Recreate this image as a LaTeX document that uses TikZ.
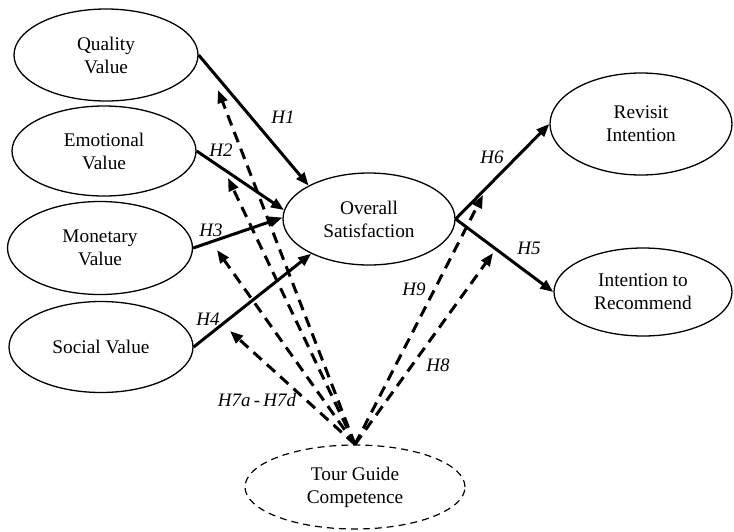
\documentclass[tikz,border=0pt]{standalone}
\usepackage{fontspec}
\setmainfont{Liberation Serif}
\usetikzlibrary{arrows.meta,shapes.geometric}
\begin{document}
\begin{tikzpicture}[x=1pt,y=-1pt,
  construct/.style={draw, ellipse, line width=1.3pt, inner sep=0pt, align=center,
    font=\fontsize{19.3}{23}\selectfont},
  solidpath/.style={line width=3pt, -{Triangle[length=13pt,width=10pt]}},
  moder/.style={line width=3pt, dash pattern=on 11pt off 7pt, -{Triangle[length=13pt,width=10pt]}},
  hlab/.style={font=\fontsize{19}{22}\selectfont\itshape, inner sep=0pt}]
\useasboundingbox (0,0) rectangle (734,531);
% constructs
\node[construct, minimum width=184pt, minimum height=92pt] (QV) at (106,55) {Quality\\Value};
\node[construct, minimum width=184pt, minimum height=90pt] (EV) at (104,151) {Emotional\\Value};
\node[construct, minimum width=185pt, minimum height=93pt] (MV) at (100,248) {Monetary\\Value};
\node[construct, minimum width=184pt, minimum height=91pt] (SV) at (101,347) {Social Value};
\node[construct, minimum width=172pt, minimum height=92pt] (OS) at (369,219) {Overall\\Satisfaction};
\node[construct, minimum width=182pt, minimum height=102pt] (RI) at (641,124) {Revisit\\Intention};
\node[construct, minimum width=178pt, minimum height=88pt] (IR) at (643,292) {Intention to\\Recommend};
\node[construct, dash pattern=on 7pt off 5pt, line width=1.2pt, minimum width=220pt, minimum height=84pt] (TG) at (355,487) {Tour Guide\\Competence};
% direct paths
\draw[solidpath] (QV.east) -- (OS.151);
\draw[solidpath] (EV.east) -- (OS.174);
\draw[solidpath] (MV.east) -- (OS.179);
\draw[solidpath] (SV.east) -- (OS.211);
\draw[solidpath] (OS.east) -- (RI.west);
\draw[solidpath] (OS.east) -- (IR.west);
% moderating paths
\coordinate (m1) at (218,90);
\coordinate (m2) at (228,178);
\coordinate (m3) at (217,250);
\coordinate (m4) at (230,331);
\coordinate (m9) at (483,195);
\coordinate (m8) at (493,253);
\draw[moder] (TG.north) -- (m1);
\draw[moder] (TG.north) -- (m2);
\draw[moder] (TG.north) -- (m3);
\draw[moder] (TG.north) -- (m4);
\draw[moder] (TG.north) -- (m9);
\draw[moder] (TG.north) -- (m8);
% labels
\node[hlab] (h1) at (283,117) {H1};
\node[hlab] (h2) at (221,150) {H2};
\node[hlab] (h3) at (211,230) {H3};
\node[hlab] (h4) at (208,319) {H4};
\node[hlab] (h5) at (529,248) {H5};
\node[hlab] (h6) at (492,157) {H6};
\node[hlab] (h7) at (257,400) {H7a\,-\,H7d};
\node[hlab] (h8) at (438,365) {H8};
\node[hlab] (h9) at (414,289) {H9};
\end{tikzpicture}
\end{document}
